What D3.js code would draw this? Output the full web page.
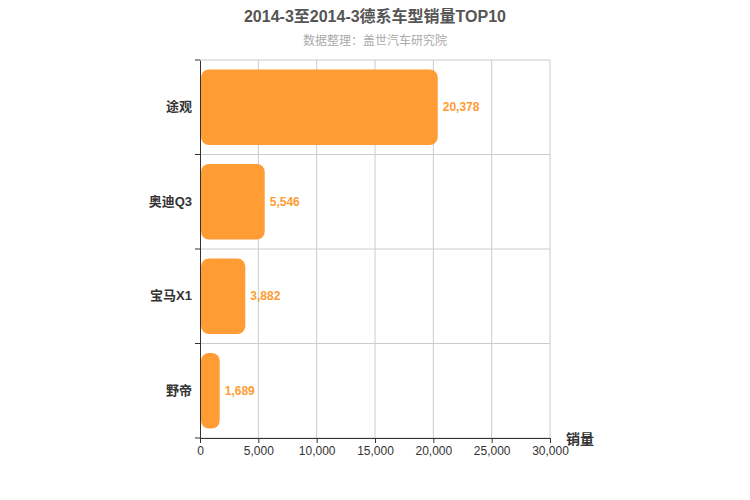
<!DOCTYPE html>
<html><head><meta charset="utf-8">
<script src="https://cdn.jsdelivr.net/npm/d3@7"></script>
<style>body{margin:0;background:#fff;font-family:Arial,"Noto Sans CJK SC",sans-serif}</style>
</head><body><svg id="c" width="750" height="500"></svg>
<script>
const categories=["途观","奥迪Q3","宝马X1","野帝"];
const values=[20378,5546,3882,1689];
const xTicks=[0,5000,10000,15000,20000,25000,30000];
const svg=d3.select("#c");
const L=200,R=550,T=60,B=438;
const x=d3.scaleLinear().domain([0,30000]).range([L,R]);
const y=d3.scaleBand().domain(categories).range([T,B]);
const font='"Liberation Sans",Arial,"Noto Sans CJK SC",sans-serif';
svg.append("g").selectAll("line").data(xTicks.slice(1)).join("line")
 .attr("x1",d=>x(d)).attr("x2",d=>x(d)).attr("y1",T).attr("y2",B).attr("stroke","#ccc");
const bounds=categories.map(c=>y(c)).concat([B]);
svg.append("g").selectAll("line").data(bounds).join("line")
 .attr("x1",L).attr("x2",R).attr("y1",d=>d).attr("y2",d=>d).attr("stroke","#ccc");
const bh=y.bandwidth()*0.8;
svg.append("g").selectAll("rect").data(values).join("rect")
 .attr("x",L+1).attr("y",(d,i)=>y(categories[i])+(y.bandwidth()-bh)/2)
 .attr("width",d=>x(d)-L-1).attr("height",bh).attr("rx",8).attr("fill","#ff9c33");
svg.append("g").selectAll("text").data(values).join("text")
 .attr("x",d=>x(d)+5).attr("y",(d,i)=>y(categories[i])+y.bandwidth()/2+4)
 .attr("fill","#ff9c33").attr("font-size",12).attr("font-weight","bold").attr("font-family",font)
 .text(d=>d3.format(",")(d));
const ya=svg.append("g").attr("transform",`translate(${L},0)`)
 .call(d3.axisLeft(y).tickSize(0).tickPadding(8));
ya.select(".domain").attr("stroke","#333");
ya.selectAll("text").attr("font-size",13).attr("font-weight","bold").attr("fill","#333").attr("font-family",font);
ya.selectAll(".b").data(bounds).join("line").attr("class","b").attr("x1",-5).attr("x2",0).attr("y1",d=>d).attr("y2",d=>d).attr("stroke","#333");
const xa=svg.append("g").attr("transform",`translate(0,${B})`)
 .call(d3.axisBottom(x).tickValues(xTicks).tickFormat(d3.format(",")).tickSize(5).tickSizeOuter(0));
xa.select(".domain").attr("stroke","#333");
xa.selectAll("line").attr("stroke","#333");
xa.selectAll("text").attr("font-size",12).attr("fill","#333").attr("font-family",font);
svg.append("text").attr("x",580).attr("y",444).attr("text-anchor","middle").attr("font-size",14).attr("font-weight","bold").attr("fill","#333").attr("font-family",font).text("销量");
svg.append("text").attr("x",375).attr("y",22).attr("text-anchor","middle").attr("font-size",16).attr("font-weight","bold").attr("fill","#555").attr("font-family",font).text("2014-3至2014-3德系车型销量TOP10");
svg.append("text").attr("x",375).attr("y",45).attr("text-anchor","middle").attr("font-size",12).attr("fill","#aaa").attr("font-family",font).text("数据整理：盖世汽车研究院");
</script></body></html>
